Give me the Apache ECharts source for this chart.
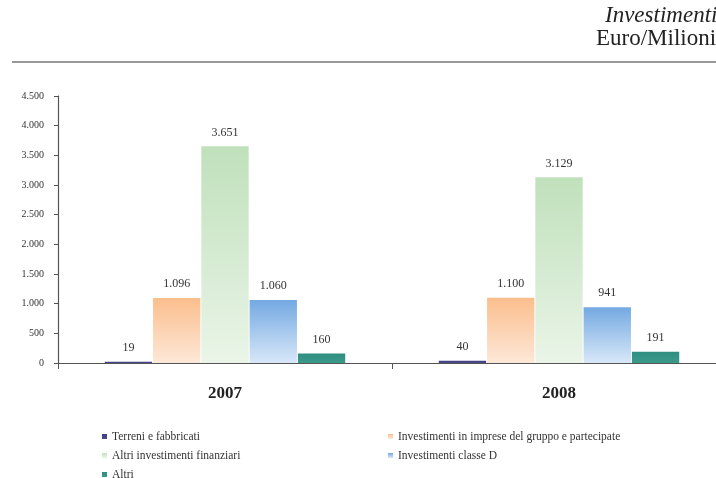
<!DOCTYPE html>
<html>
<head>
<meta charset="utf-8">
<script src="https://cdn.jsdelivr.net/npm/echarts@6/dist/echarts.min.js"></script>
<style>
  html, body { margin: 0; padding: 0; background: #ffffff; overflow: hidden; }
  #chart { width: 730px; height: 478px; }
</style>
</head>
<body>
<div id="chart"></div>
<script>
// Investimenti per tipologia, Euro/Milioni
const years = ['2007', '2008'];
const seriesNames = [
  'Terreni e fabbricati',
  'Investimenti in imprese del gruppo e partecipate',
  'Altri investimenti finanziari',
  'Investimenti classe D',
  'Altri'
];
const terreni = [19, 40];
const imprese = [1096, 1100];
const altriFinanziari = [3651, 3129];
const classeD = [1060, 941];
const altri = [160, 191];
const yTicks = [0, 500, 1000, 1500, 2000, 2500, 3000, 3500, 4000, 4500];

const seriesValues = [terreni, imprese, altriFinanziari, classeD, altri];

// top / bottom colours of each bar's vertical gradient
const fills = [
  ['#3e3e80', '#4a4a8e'],
  ['#fbbe8d', '#fde8d8'],
  ['#c0e0bb', '#eaf5e8'],
  ['#74a9e2', '#d8e8f8'],
  ['#2f8e80', '#3b9a8b']
];
const legendColors = ['#6b6ba3', '#fbc9a0', '#dff0d8', '#8fb8e8', '#4aa090'];

const serif = '"Liberation Serif", "DejaVu Serif", serif';

function itNumber(v) {
  return String(v).replace(/\B(?=(\d{3})+(?!\d))/g, '.');
}

const chart = echarts.init(document.getElementById('chart'));

const series = seriesNames.map((name, i) => ({
  name: name,
  type: 'bar',
  data: seriesValues[i],
  barGap: '2%',
  barCategoryGap: '28%',
  itemStyle: {
    color: new echarts.graphic.LinearGradient(0, 0, 0, 1, [
      { offset: 0, color: fills[i][0] },
      { offset: 1, color: fills[i][1] }
    ])
  },
  label: {
    show: true,
    position: 'top',
    distance: 8,
    fontFamily: serif,
    fontSize: 12,
    color: '#333',
    formatter: p => itNumber(p.value)
  }
}));

const legendStyle = {
  orient: 'vertical',
  icon: 'rect',
  itemWidth: 5,
  itemHeight: 5,
  itemGap: 6,
  height: 80,
  textStyle: { fontFamily: serif, fontSize: 11.5, color: '#333', lineHeight: 13 },
  selectedMode: false
};

chart.setOption({
  backgroundColor: '#ffffff',
  animation: false,
  color: legendColors,
  graphic: [
    {
      type: 'text', left: 605, top: 4,
      style: { text: 'Investimenti', font: 'italic 23px ' + serif, fill: '#222' }
    },
    {
      type: 'text', left: 596, top: 27,
      style: { text: 'Euro/Milioni', font: '23px ' + serif, fill: '#222' }
    },
    {
      type: 'line',
      shape: { x1: 12, y1: 62, x2: 730, y2: 62 },
      style: { stroke: '#333', lineWidth: 1.2 }
    }
  ],
  legend: [
    Object.assign({ left: 97, top: 425, data: [seriesNames[0], seriesNames[2], seriesNames[4]] }, legendStyle),
    Object.assign({ left: 383, top: 425, data: [seriesNames[1], seriesNames[3]] }, legendStyle)
  ],
  grid: { left: 58, right: 4, top: 96, bottom: 115, containLabel: false },
  xAxis: {
    type: 'category',
    data: years,
    axisLine: { lineStyle: { color: '#555', width: 1.2 } },
    axisTick: { show: true, length: 6, lineStyle: { color: '#555' } },
    axisLabel: { fontFamily: serif, fontSize: 17, fontWeight: 'bold', color: '#222', margin: 22 }
  },
  yAxis: {
    type: 'value',
    min: yTicks[0],
    max: yTicks[yTicks.length - 1],
    interval: 500,
    splitLine: { show: false },
    axisLine: { show: true, lineStyle: { color: '#555', width: 1.2 } },
    axisTick: { show: true, length: 4, lineStyle: { color: '#555' } },
    axisLabel: { fontFamily: serif, fontSize: 10, color: '#333', margin: 14, formatter: v => itNumber(v) }
  },
  series: series
});
</script>
</body>
</html>
